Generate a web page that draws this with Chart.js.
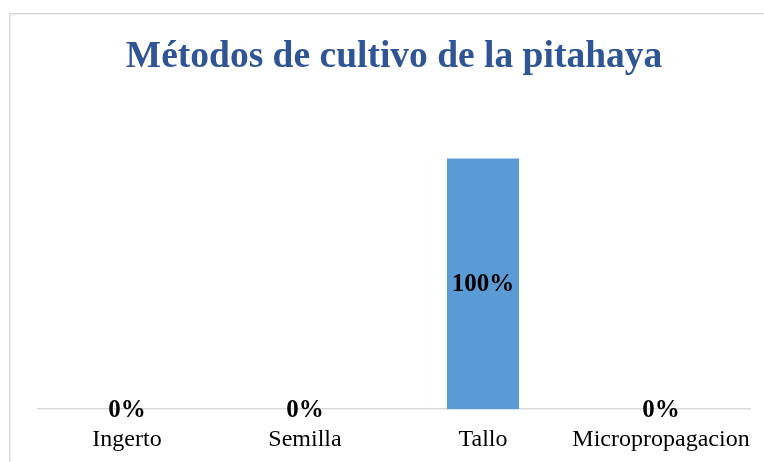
<!DOCTYPE html>
<html>
<head>
<meta charset="utf-8">
<script src="https://cdn.jsdelivr.net/npm/chart.js@4"></script>
<style>
html,body{margin:0;padding:0;background:#fff;}
#wrap{width:764px;height:462px;position:relative;}
</style>
</head>
<body>
<div id="wrap"><canvas id="c" width="764" height="462"></canvas></div>
<script>
const categories = ["Ingerto", "Semilla", "Tallo", "Micropropagacion"];
const values = [0, 0, 100, 0];
const valueLabels = ["0%", "0%", "100%", "0%"];
const titleText = "Métodos de cultivo de la pitahaya";

const frame = {
  id: 'frame',
  beforeDraw(chart) {
    const ctx = chart.ctx;
    ctx.save();
    ctx.fillStyle = '#ffffff';
    ctx.fillRect(0, 0, chart.width, chart.height);
    ctx.strokeStyle = '#d9d9d9';
    ctx.lineWidth = 1.5;
    ctx.strokeRect(9.75, 13.75, 900, 600);
    ctx.restore();
  }
};

const labelsPlugin = {
  id: 'valLabels',
  afterDatasetsDraw(chart) {
    const ctx = chart.ctx;
    const meta = chart.getDatasetMeta(0);
    const yScale = chart.scales.y;
    ctx.save();
    ctx.font = 'bold 25px "Liberation Serif"';
    ctx.fillStyle = '#000';
    ctx.textAlign = 'center';
    ctx.textBaseline = 'middle';
    meta.data.forEach((bar, i) => {
      const v = values[i];
      let y;
      if (v === 0) {
        y = yScale.getPixelForValue(0) + 1;
      } else {
        y = (yScale.getPixelForValue(v) + yScale.getPixelForValue(0)) / 2 + 1;
      }
      ctx.fillText(valueLabels[i], bar.x, y);
    });
    ctx.restore();
  }
};

new Chart(document.getElementById('c'), {
  type: 'bar',
  data: {
    labels: categories,
    datasets: [{
      data: values,
      backgroundColor: '#5B9BD5',
      categoryPercentage: 1,
      barPercentage: 0.405
    }]
  },
  options: {
    responsive: false,
    animation: false,
    layout: { padding: { left: 38, right: 14, top: 0, bottom: -8 } },
    plugins: {
      legend: { display: false },
      tooltip: { enabled: false },
      title: {
        display: true,
        text: titleText,
        color: '#2F5597',
        font: { family: '"Liberation Serif"', size: 37.5, weight: 'bold' },
        padding: { top: 35, bottom: 28.5 }
      }
    },
    scales: {
      x: {
        grid: { display: false, drawTicks: false },
        border: { display: true, color: '#d9d9d9', width: 1.5 },
        afterFit(scale) { scale.paddingLeft = 0; scale.paddingRight = 0; },
        ticks: {
          color: '#000',
          font: { family: '"Liberation Serif"', size: 24 },
          padding: 16,
          maxRotation: 0,
          autoSkip: false
        }
      },
      y: {
        display: false,
        min: 0,
        max: 120
      }
    }
  },
  plugins: [frame, labelsPlugin]
});
</script>
</body>
</html>
